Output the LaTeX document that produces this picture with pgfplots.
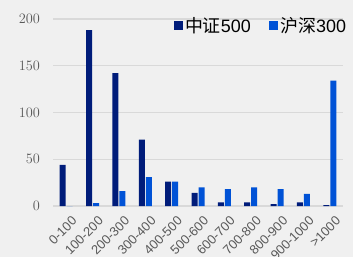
\documentclass[border=0pt]{standalone}
\usepackage{pgfplots}
\pgfplotsset{compat=1.18}
\usepackage{fontspec}
\setmainfont{Liberation Sans}
\newfontfamily\cjk{Noto Sans CJK SC}
\definecolor{bg}{HTML}{F0F0F0}
\definecolor{dk}{HTML}{001C7A}
\definecolor{lt}{HTML}{0052D6}
\definecolor{grd}{HTML}{D9D9D9}
\definecolor{tk}{HTML}{595959}
\begin{document}
\begin{tikzpicture}
\fill[bg] (0,0) rectangle (353bp,257bp);
\useasboundingbox (0,0) rectangle (353bp,257bp);
\begin{axis}[
  at={(53bp,51bp)}, anchor=south west,
  scale only axis, width=290bp, height=187bp,
  xmin=-0.5, xmax=10.5, ymin=0, ymax=200,
  ybar=1bp, bar width=6bp,
  axis line style={draw=none},
  ytick={0,50,100,150,200},
  ymajorgrids, grid style={grd, line width=1.3bp},
  major tick length=0,
  xtick={0,...,10},
  xticklabels={0-100,100-200,200-300,300-400,400-500,500-600,600-700,700-800,800-900,900-1000,>1000},
  x tick label style={rotate=45, anchor=north east, font=\fontsize{13}{13}\selectfont, color=tk, inner sep=0pt, xshift=-3bp, yshift=-10bp},
  y tick label style={font=\fontsize{14.5}{14.5}\selectfont, color=tk, xshift=-9.5bp},
  clip=false,
  legend image code/.code={\fill[#1] (0bp,-4.5bp) rectangle (9.5bp,5bp);},
  legend style={at={(0.415,0.965)}, anchor=west, draw=none, fill=none,
    font=\fontsize{18}{18}\selectfont, inner sep=0pt,
    /tikz/every even column/.append style={column sep=16bp}},
  legend columns=2, legend cell align=left,
]
\addplot[fill=dk, draw=none] coordinates {(0,44) (1,188) (2,142) (3,71) (4,26) (5,14) (6,4) (7,4) (8,2) (9,4) (10,1)};
\addplot[fill=lt, draw=none] coordinates {(0,0) (1,3) (2,16) (3,31) (4,26) (5,20) (6,18) (7,20) (8,18) (9,13) (10,134)};
\legend{{\cjk 中证}500,{\cjk 沪深}300}
\end{axis}
\end{tikzpicture}
\end{document}
